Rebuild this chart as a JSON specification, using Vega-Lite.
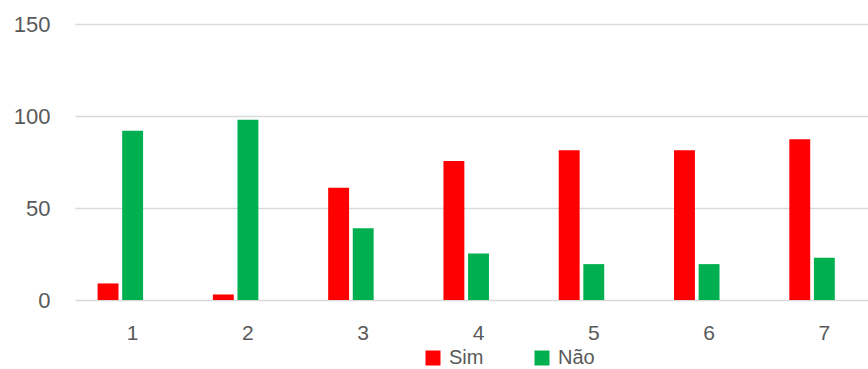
{
  "$schema": "https://vega.github.io/schema/vega-lite/v6.json",
  "autosize": "none",
  "width": 793,
  "height": 276,
  "padding": {"left": 75, "top": 24, "right": 0, "bottom": 69},
  "background": "white",
  "config": {
    "view": {"stroke": null},
    "font": "Liberation Sans",
    "axis": {"labelFont": "Liberation Sans", "labelColor": "#595959", "labelFontSize": 22, "domain": false, "ticks": false},
    "legend": {"labelFont": "Liberation Sans", "labelColor": "#595959", "labelFontSize": 20}
  },
  "data": {
    "values": [
      {"cat": "1", "serie": "Sim", "valor": 9},
      {"cat": "1", "serie": "Não", "valor": 92},
      {"cat": "2", "serie": "Sim", "valor": 3},
      {"cat": "2", "serie": "Não", "valor": 98},
      {"cat": "3", "serie": "Sim", "valor": 61},
      {"cat": "3", "serie": "Não", "valor": 39},
      {"cat": "4", "serie": "Sim", "valor": 75.5},
      {"cat": "4", "serie": "Não", "valor": 25.3},
      {"cat": "5", "serie": "Sim", "valor": 81.4},
      {"cat": "5", "serie": "Não", "valor": 19.5},
      {"cat": "6", "serie": "Sim", "valor": 81.4},
      {"cat": "6", "serie": "Não", "valor": 19.5},
      {"cat": "7", "serie": "Sim", "valor": 87.4},
      {"cat": "7", "serie": "Não", "valor": 22.9}
    ]
  },
  "mark": {"type": "bar"},
  "encoding": {
    "x": {
      "field": "cat", "type": "nominal", "title": null,
      "scale": {"range": [0, 807], "paddingInner": 0.36, "paddingOuter": 0.18},
      "axis": {"labelAngle": 0, "labelPadding": 22, "labelFontSize": 21, "grid": false}
    },
    "xOffset": {
      "field": "serie", "type": "nominal",
      "scale": {"domain": ["Sim", "Não", "—"], "paddingInner": 0.15, "paddingOuter": 0.075}
    },
    "y": {
      "field": "valor", "type": "quantitative", "title": null,
      "scale": {"domain": [0, 150], "nice": false},
      "axis": {"values": [0, 50, 100, 150], "gridColor": "#d9d9d9", "gridWidth": 1.6, "labelPadding": 25}
    },
    "color": {
      "field": "serie", "type": "nominal", "title": null,
      "scale": {"domain": ["Sim", "Não"], "range": ["#FF0000", "#00B050"]},
      "legend": {"orient": "none", "direction": "horizontal", "legendX": 348, "legendY": 324, "symbolType": "square", "symbolSize": 225, "symbolStrokeWidth": 0, "symbolOpacity": 1, "columnPadding": 48, "labelOffset": 6}
    }
  }
}
